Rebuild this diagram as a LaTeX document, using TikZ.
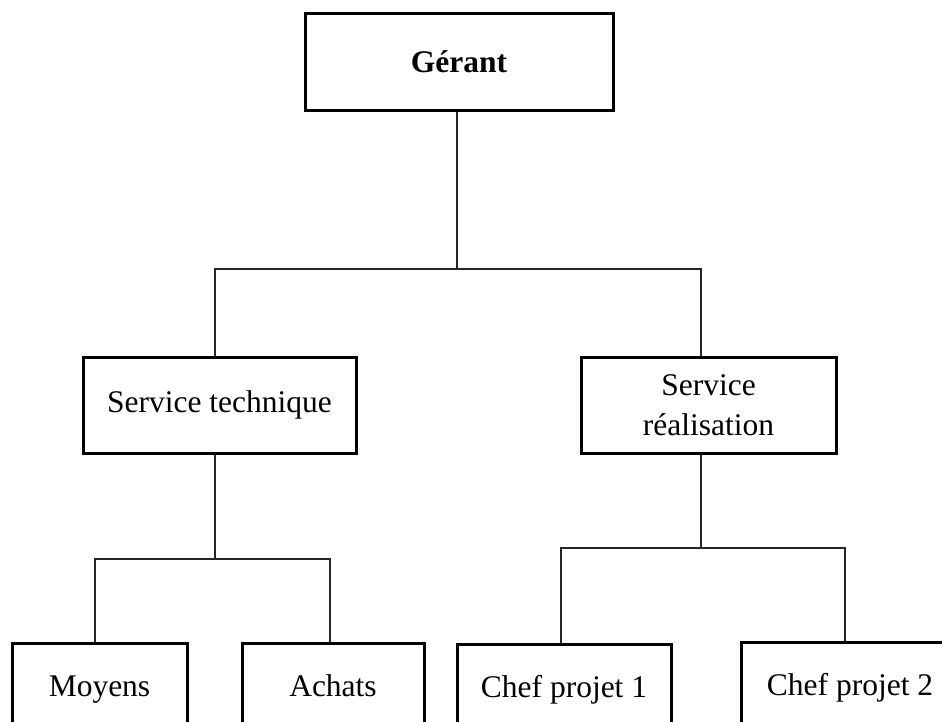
\documentclass[tikz,border=0pt]{standalone}
\usepackage{fontspec}
\setmainfont{Liberation Serif}

\tikzset{
  unit/.style={draw=black, line width=3pt, fill=white, inner sep=0pt,
               align=center, font=\fontsize{31.5}{40}\selectfont},
  oneline/.style={unit, text height=22pt, text depth=8pt},
  link/.style={draw=black!85, line width=1.3pt}
}

\begin{document}
\begin{tikzpicture}[x=1pt, y=-1pt]
  \useasboundingbox (0,0) rectangle (942,722);

  % boxes of the organisation chart
  \node[oneline, text depth=1pt, minimum width=308pt, minimum height=97pt] (ger) at (459,62.5) {\textbf{Gérant}};
  \node[oneline, minimum width=273pt, minimum height=96pt] (tech) at (219.5,405) {Service technique};
  \node[unit, minimum width=255pt, minimum height=96pt] (real) at (708.5,405) {Service\\réalisation};
  \node[oneline, minimum width=175pt, minimum height=92pt] (moy) at (99.5,689) {Moyens};
  \node[oneline, minimum width=182pt, minimum height=92pt] (ach) at (333,689) {Achats};
  \node[oneline, minimum width=214pt, minimum height=92pt] (cp1) at (564,690) {Chef projet 1};
  \node[oneline, minimum width=218pt, minimum height=92pt] (cp2) at (850,688) {Chef projet 2};

  % branching points of the connectors
  \coordinate (top)   at (457,269);
  \coordinate (techx) at (215,0);
  \coordinate (realx) at (701,0);
  \coordinate (tbus)  at (215,559);
  \coordinate (rbus)  at (701,548);
  \coordinate (moyx)  at (95,0);
  \coordinate (achx)  at (330,0);
  \coordinate (cp1x)  at (561,0);
  \coordinate (cp2x)  at (845,0);

  % first level
  \draw[link] (ger.south -| top) -- (top);
  \draw[link] (tech.north -| techx) |- (top) -| (real.north -| realx);

  % technical service
  \draw[link] (tech.south -| techx) -- (tbus);
  \draw[link] (moy.north -| moyx) |- (tbus) -| (ach.north -| achx);

  % production service
  \draw[link] (real.south -| realx) -- (rbus);
  \draw[link] (cp1.north -| cp1x) |- (rbus) -| (cp2.north -| cp2x);
\end{tikzpicture}
\end{document}
